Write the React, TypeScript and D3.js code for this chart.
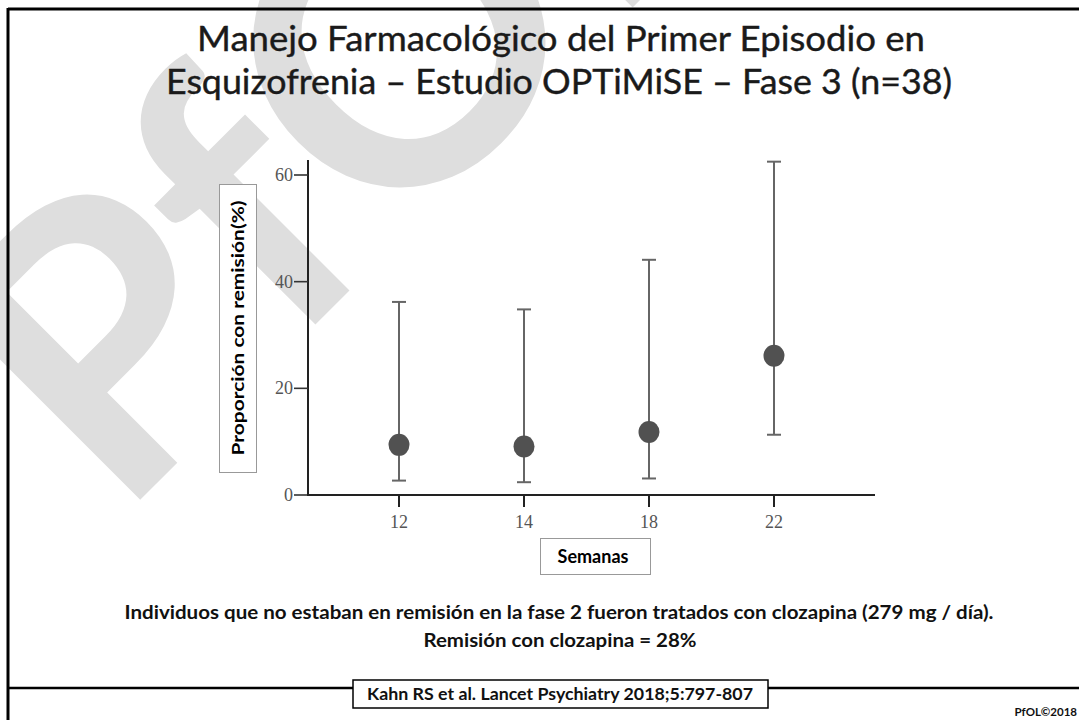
import React from "react";
import * as d3 from "d3";

const weeks = ["12", "14", "18", "22"];
const remission = [9.4, 9.1, 11.8, 26.1];
const lowerCI = [2.7, 2.4, 3.1, 11.3];
const upperCI = [36.2, 34.8, 44.1, 62.5];
const yTicks = [0, 20, 40, 60];

const titleLines = [
  "Manejo Farmacológico del Primer Episodio en",
  "Esquizofrenia – Estudio OPTiMiSE – Fase 3 (n=38)",
];
const noteLines = [
  "Individuos que no estaban en remisión en la fase 2 fueron tratados con clozapina (279 mg / día).",
  "Remisión con clozapina = 28%",
];
const citation = "Kahn RS et al. Lancet Psychiatry 2018;5:797-807";
const yLabel = "Proporción con remisión(%)";
const xLabel = "Semanas";

const W = 1079;
const H = 720;
const SANS = "Lato, 'Open Sans', 'Noto Sans', sans-serif";
const SERIF = "'Liberation Serif', 'DejaVu Serif', serif";

export default function App() {
  const axisX0 = 308;
  const axisX1 = 875;
  const axisY0 = 495;
  const x = d3.scalePoint<string>().domain(weeks).range([399, 774]).padding(0);
  const y = d3.scaleLinear().domain([0, 60]).range([axisY0, 175]);
  const yTop = y(62.8);
  const capW = 7;

  return (
    <svg
      width={W}
      height={H}
      viewBox={`0 0 ${W} ${H}`}
      style={{ position: "absolute", left: 0, top: 0, background: "#fff" }}
    >
      <rect x={0} y={0} width={W} height={H} fill="#fff" />
      {/* watermark */}
      <text
        transform="translate(118,522) rotate(-45)"
        fontFamily={SANS}
        fontWeight={700}
        fontSize={390}
        fill="#dedede"
      >
        PfOL
      </text>

      {/* frame */}
      <line x1={8} y1={9} x2={W} y2={9} stroke="#000" strokeWidth={3} />
      <line x1={8} y1={8} x2={8} y2={H} stroke="#000" strokeWidth={3} />
      <line x1={8} y1={688} x2={W} y2={688} stroke="#000" strokeWidth={2.5} />

      {/* title */}
      <g fontFamily={SANS} fontSize={34} fill="#1a1a1a" stroke="#1a1a1a" strokeWidth={0.4} textAnchor="middle">
        <text x={561} y={51} textLength={728} lengthAdjust="spacingAndGlyphs">{titleLines[0]}</text>
        <text x={559} y={94} textLength={786} lengthAdjust="spacingAndGlyphs">{titleLines[1]}</text>
      </g>

      {/* y axis */}
      <line x1={axisX0} y1={yTop} x2={axisX0} y2={axisY0 + 1} stroke="#222" strokeWidth={2} />
      {yTicks.map((t) => (
        <g key={t}>
          <line x1={axisX0 - 14} y1={y(t)} x2={axisX0} y2={y(t)} stroke="#333" strokeWidth={1.6} />
          <text x={axisX0 - 15} y={y(t) + 6} textAnchor="end" fontFamily={SERIF} fontSize={18} fill="#555">
            {t}
          </text>
        </g>
      ))}

      {/* x axis */}
      <line x1={axisX0 - 1} y1={axisY0} x2={axisX1} y2={axisY0} stroke="#222" strokeWidth={2} />
      {weeks.map((w) => (
        <g key={w}>
          <line x1={x(w)!} y1={axisY0} x2={x(w)!} y2={axisY0 + 12} stroke="#222" strokeWidth={2} />
          <text x={x(w)!} y={528} textAnchor="middle" fontFamily={SERIF} fontSize={18} fill="#555">
            {w}
          </text>
        </g>
      ))}

      {/* error bars and points */}
      {weeks.map((w, i) => {
        const cx = x(w)!;
        return (
          <g key={w}>
            <line x1={cx} y1={y(upperCI[i])} x2={cx} y2={y(lowerCI[i])} stroke="#666" strokeWidth={2} />
            <line x1={cx - capW} y1={y(upperCI[i])} x2={cx + capW} y2={y(upperCI[i])} stroke="#666" strokeWidth={2} />
            <line x1={cx - capW} y1={y(lowerCI[i])} x2={cx + capW} y2={y(lowerCI[i])} stroke="#666" strokeWidth={2} />
            <ellipse cx={cx} cy={y(remission[i])} rx={10.5} ry={11} fill="#515151" />
          </g>
        );
      })}

      {/* y label box */}
      <rect x={219.5} y={184.5} width={37} height={288} fill="#fff" stroke="#999" strokeWidth={1} />
      <text
        transform="translate(244,328) rotate(-90)"
        textAnchor="middle"
        fontFamily={SANS}
        fontWeight={700}
        fontSize={17}
        fill="#000"
        textLength={255}
        lengthAdjust="spacingAndGlyphs"
      >
        {yLabel}
      </text>

      {/* x label box */}
      <rect x={540.5} y={538.5} width={110} height={36} fill="#fff" stroke="#999" strokeWidth={1} />
      <text x={593} y={563} textAnchor="middle" fontFamily={SANS} fontWeight={700} fontSize={18} fill="#000">
        {xLabel}
      </text>

      {/* notes */}
      <g fontFamily={SANS} fontWeight={700} fontSize={19} fill="#111" textAnchor="middle">
        <text x={559} y={619} textLength={869} lengthAdjust="spacingAndGlyphs">{noteLines[0]}</text>
        <text x={560} y={647} textLength={273} lengthAdjust="spacingAndGlyphs">{noteLines[1]}</text>
      </g>

      {/* citation */}
      <rect x={353} y={680} width={415} height={28} fill="#fff" stroke="#000" strokeWidth={1.5} />
      <text x={560} y={700} textAnchor="middle" fontFamily={SANS} fontWeight={700} fontSize={17} fill="#111"
        textLength={386} lengthAdjust="spacingAndGlyphs">{citation}</text>

      <text x={1077} y={716} textAnchor="end" fontFamily={SANS} fontWeight={700} fontSize={11.5} fill="#111">
        PfOL©2018
      </text>
    </svg>
  );
}
